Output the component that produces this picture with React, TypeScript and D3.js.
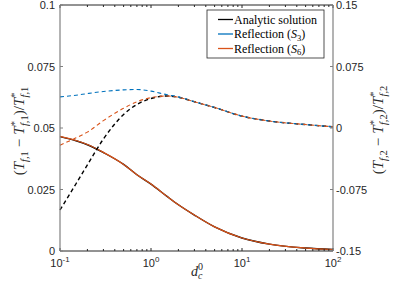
import * as d3 from 'd3'

// d_c^0 sample points (log spaced)
const dc = [0.1, 0.15, 0.2, 0.3, 0.5, 0.7, 1, 1.5, 2, 3, 5, 10, 20, 50, 100]

// left axis: (T_f1 - T*_f1)/T*_f1, analytic and S6 overlap
const analytic1 = [0.0465, 0.0448, 0.0432, 0.04, 0.0352, 0.031, 0.0272, 0.0222, 0.0188, 0.0146, 0.0098, 0.0053, 0.0028, 0.0012, 0.0006]
const s6_1 = [0.0466, 0.0449, 0.0433, 0.0401, 0.0352, 0.031, 0.0272, 0.0222, 0.0188, 0.0146, 0.0098, 0.0053, 0.0028, 0.0012, 0.0006]

// right axis: (T_f2 - T*_f2)/T*_f2
const analytic2 = [-0.1, -0.068, -0.045, -0.0134, 0.0165, 0.0287, 0.036, 0.039, 0.0375, 0.032, 0.025, 0.0145, 0.0085, 0.0042, 0.0015]
const s3_2 = [0.038, 0.04, 0.042, 0.0445, 0.0465, 0.047, 0.045, 0.0405, 0.038, 0.032, 0.025, 0.0145, 0.0085, 0.0042, 0.0015]
const s6_2 = [-0.021, -0.012, -0.005, 0.009, 0.024, 0.032, 0.037, 0.039, 0.0375, 0.032, 0.025, 0.0145, 0.0085, 0.0042, 0.0015]

const leftTicks = [0, 0.025, 0.05, 0.075, 0.1]
const rightTicks = [-0.15, -0.075, 0, 0.075, 0.15]
const xDecades = [-1, 0, 1, 2]
const legendItems = [
  { label: 'Analytic solution', sub: '', color: '#000000' },
  { label: 'Reflection (', sub: '3', color: '#0072BD' },
  { label: 'Reflection (', sub: '6', color: '#D95319' },
]

const margin = { top: 5, right: 67, bottom: 38, left: 60 }
const W = 400
const H = 289
const innerW = W - margin.left - margin.right
const innerH = H - margin.top - margin.bottom

const tickFont = '"Liberation Sans", Arial, sans-serif'
const texFont = '"Liberation Serif", "DejaVu Serif", serif'

const YLabel = ({ x, y, idx }: { x: number; y: number; idx: string }) => (
  <text
    transform={`translate(${x},${y}) rotate(-90)`}
    fontFamily={texFont}
    fontSize={15}
    fill="#262626"
    textAnchor="middle"
  >
    (<tspan fontStyle="italic">T</tspan>
    <tspan dy={3.5} fontSize={10.5} fontStyle="italic">f,</tspan>
    <tspan fontSize={10.5}>{idx}</tspan>
    <tspan dy={-3.5} dx={4}>−</tspan>
    <tspan dx={4} fontStyle="italic">T</tspan>
    <tspan dy={-6} fontSize={10.5}>*</tspan>
    <tspan dx={-5} dy={9.5} fontSize={10.5} fontStyle="italic">f,</tspan>
    <tspan fontSize={10.5}>{idx}</tspan>
    <tspan dy={-3.5}>)/</tspan>
    <tspan fontStyle="italic">T</tspan>
    <tspan dy={-6} fontSize={10.5}>*</tspan>
    <tspan dx={-5} dy={9.5} fontSize={10.5} fontStyle="italic">f,</tspan>
    <tspan fontSize={10.5}>{idx}</tspan>
  </text>
)

export default function App() {
  const x = d3.scaleLog().domain([0.1, 100]).range([0, innerW])
  const yL = d3.scaleLinear().domain([0, 0.1]).range([innerH, 0])
  const yR = d3.scaleLinear().domain([-0.15, 0.15]).range([innerH, 0])

  const lineL = d3
    .line<number>()
    .x((_, i) => x(dc[i]))
    .y((d) => yL(d))
    .curve(d3.curveMonotoneX)
  const lineR = d3
    .line<number>()
    .x((_, i) => x(dc[i]))
    .y((d) => yR(d))
    .curve(d3.curveMonotoneX)

  const minor: number[] = []
  for (let e = -1; e < 2; e++) for (let k = 2; k < 10; k++) minor.push(k * Math.pow(10, e))

  return (
    <svg
      width={W}
      height={H}
      style={{ position: 'absolute', left: 0, top: 0, background: '#fff' }}
    >
      <g transform={`translate(${margin.left},${margin.top})`}>
        {/* curves */}
        <path d={lineL(analytic1) ?? ''} fill="none" stroke="#000" strokeWidth={1.4} />
        <path d={lineL(s6_1) ?? ''} fill="none" stroke="#D95319" strokeWidth={1.2} />
        <path d={lineR(analytic2) ?? ''} fill="none" stroke="#000" strokeWidth={1.4} strokeDasharray="4,3" />
        <path d={lineR(s3_2) ?? ''} fill="none" stroke="#0072BD" strokeWidth={1.1} strokeDasharray="4,3" />
        <path d={lineR(s6_2) ?? ''} fill="none" stroke="#D95319" strokeWidth={1.1} strokeDasharray="4,3" />

        {/* top / bottom axes */}
        <line x1={0} x2={innerW} y1={0} y2={0} stroke="#262626" strokeWidth={1} />
        <line x1={0} x2={innerW} y1={innerH} y2={innerH} stroke="#262626" strokeWidth={1} />
        {xDecades.map((e) => {
          const px = x(Math.pow(10, e))
          return (
            <g key={e}>
              <line x1={px} x2={px} y1={innerH} y2={innerH - 3} stroke="#262626" />
              <line x1={px} x2={px} y1={0} y2={3} stroke="#262626" />
              <text
                x={px}
                y={innerH + 16}
                fontFamily={tickFont}
                fontSize={11}
                fill="#262626"
                textAnchor="middle"
              >
                10
                <tspan dy={-5} fontSize={8}>
                  {e}
                </tspan>
              </text>
            </g>
          )
        })}
        {minor.map((m) => (
          <g key={m}>
            <line x1={x(m)} x2={x(m)} y1={innerH} y2={innerH - 2} stroke="#262626" />
            <line x1={x(m)} x2={x(m)} y1={0} y2={2} stroke="#262626" />
          </g>
        ))}

        {/* left axis */}
        <line x1={0} x2={0} y1={0} y2={innerH} stroke="#808080" strokeWidth={1.2} />
        {leftTicks.map((t) => (
          <g key={t}>
            <line x1={0} x2={3} y1={yL(t)} y2={yL(t)} stroke="#808080" />
            <text
              x={-5}
              y={yL(t) + 4}
              fontFamily={tickFont}
              fontSize={11}
              fill="#262626"
              textAnchor="end"
            >
              {d3.format('~g')(t)}
            </text>
          </g>
        ))}

        {/* right axis */}
        <line x1={innerW} x2={innerW} y1={0} y2={innerH} stroke="#808080" strokeWidth={1.2} />
        {rightTicks.map((t) => (
          <g key={t}>
            <line x1={innerW} x2={innerW - 3} y1={yR(t)} y2={yR(t)} stroke="#808080" />
            <text
              x={innerW + 3}
              y={yR(t) + 4}
              fontFamily={tickFont}
              fontSize={11}
              fill="#262626"
            >
              {d3.format('~g')(t).replace('−', '-')}
            </text>
          </g>
        ))}

        {/* legend */}
        <g transform="translate(147,5)">
          <rect x={0} y={0} width={117} height={48} fill="#fff" stroke="#262626" strokeWidth={0.8} />
          {legendItems.map((it, i) => (
            <g key={i} transform={`translate(0,${9.5 + i * 14.5})`}>
              <line x1={11} x2={26} y1={0} y2={0} stroke={it.color} strokeWidth={1.3} />
              <text x={27} y={4} fontFamily={texFont} fontSize={12} fill="#000">
                {it.label}
                {it.sub && (
                  <>
                    <tspan fontStyle="italic">S</tspan>
                    <tspan dy={2.5} fontSize={8.5}>
                      {it.sub}
                    </tspan>
                    <tspan dy={-2.5}>)</tspan>
                  </>
                )}
              </text>
            </g>
          ))}
        </g>
      </g>

      {/* x label */}
      <text x={191} y={276} fontFamily={texFont} fontSize={14} fill="#262626">
        <tspan fontStyle="italic">d</tspan>
        <tspan dy={-6} fontSize={10}>0</tspan>
        <tspan dx={-5} dy={9} fontSize={10} fontStyle="italic">c</tspan>
      </text>

      <YLabel x={24} y={131} idx="1" />
      <YLabel x={383} y={130} idx="2" />
    </svg>
  )
}
